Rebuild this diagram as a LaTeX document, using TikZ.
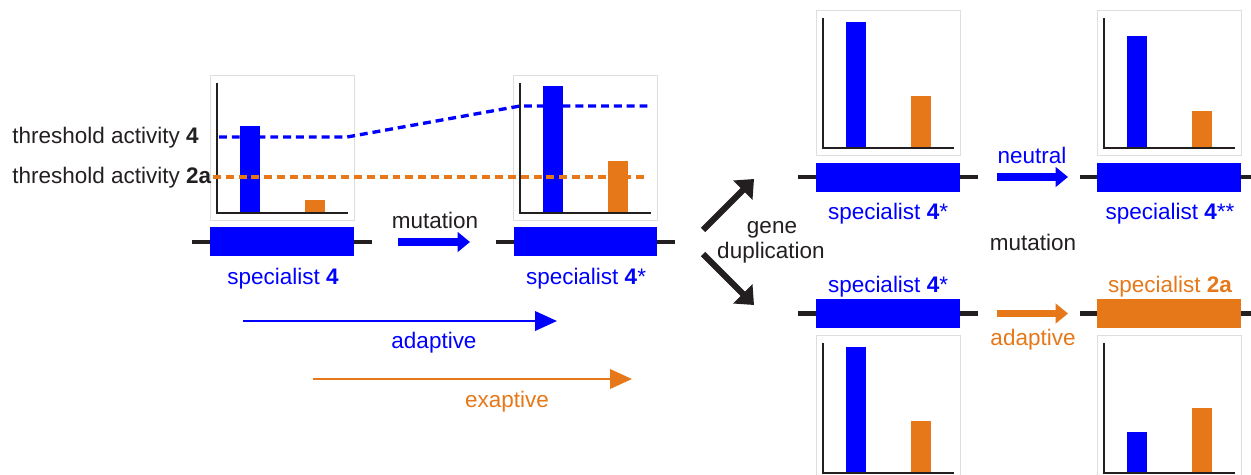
\documentclass[tikz,border=0pt]{standalone}
\usepackage{fontspec}
\setmainfont{Liberation Sans}
\usetikzlibrary{arrows.meta}
\definecolor{myorange}{RGB}{230,120,25}
\definecolor{myblue}{RGB}{0,0,255}
\definecolor{ink}{RGB}{35,31,32}
\definecolor{framegray}{RGB}{222,222,222}
\newcommand\drawchart[4]{%
  \draw[framegray, line width=0.5pt] (#1,#2) rectangle (#1+144,#2+145);
  \fill[myblue] (#1+30,#3) rectangle (#1+50,#2+138);
  \fill[myorange] (#1+95,#4) rectangle (#1+115,#2+138);
  \draw[ink, line width=1.3pt] (#1+7,#2+8) -- (#1+7,#2+138) -- (#1+138,#2+138);
}
\tikzset{
  lbl/.style={anchor=base, inner sep=0pt, font=\fontsize{12.8pt}{15pt}\selectfont},
  genebar/.style={rectangle, inner sep=0pt, minimum width=2.88cm, minimum height=0.58cm, draw=none},
  geneline/.style={ink, line width=2.4pt},
  fatarrow/.style={line width=4.3pt, -{Triangle[length=7pt,width=11pt]}},
  longarrow/.style={line width=1.5pt, -{Triangle[length=12.5pt,width=11pt]}},
  duparrow/.style={ink, line width=3.6pt, -{Triangle[length=9pt,width=15pt]}},
  thresh/.style={line width=1.9pt, dash pattern=on 4.5pt off 2.8pt},
}
\begin{document}
\begin{tikzpicture}[x=0.02cm, y=-0.02cm]
\useasboundingbox (0,0) rectangle (1251,474);
\clip (0,0) rectangle (1251,474);
% charts
\drawchart{210}{75}{126}{200}
\drawchart{513}{75}{86}{161}
\drawchart{816}{10}{22}{96}
\drawchart{1097}{10}{36}{111}
\drawchart{816}{335}{347}{421}
\drawchart{1097}{335}{432}{408}
% threshold lines
\draw[thresh, myblue] (219,137) -- (347,137) -- (520,106) -- (648,106);
\draw[thresh, myorange] (213,177) -- (648,177);
\node[lbl, anchor=base west, ink] (t4) at (12,143) {threshold activity \textbf{4}};
\node[lbl, anchor=base west, ink] (t2a) at (12,183) {threshold activity \textbf{2a}};
% gene lines and bars
\coordinate (l1a) at (192,242); \coordinate (l1b) at (372,242);
\coordinate (l2a) at (496,242); \coordinate (l2b) at (675,242);
\coordinate (l3a) at (798,177); \coordinate (l3b) at (978,177);
\coordinate (l4a) at (1080,177); \coordinate (l4b) at (1260,177);
\coordinate (l5a) at (798,313.5); \coordinate (l5b) at (978,313.5);
\coordinate (l6a) at (1080,313.5); \coordinate (l6b) at (1260,313.5);
\draw[geneline] (l1a) -- (l1b);
\draw[geneline] (l2a) -- (l2b);
\draw[geneline] (l3a) -- (l3b);
\draw[geneline] (l4a) -- (l4b);
\draw[geneline] (l5a) -- (l5b);
\draw[geneline] (l6a) -- (l6b);
\node[genebar, fill=myblue] (g1) at (282,241.5) {};
\node[genebar, fill=myblue] (g2) at (585.5,241.5) {};
\node[genebar, fill=myblue] (g3) at (888,177) {};
\node[genebar, fill=myblue] (g4) at (1169,177) {};
\node[genebar, fill=myblue] (g5) at (888,313.5) {};
\node[genebar, fill=myorange] (g6) at (1169,313.5) {};
% labels
\node[lbl, myblue] (s1) at (283,284) {specialist \textbf{4}};
\node[lbl, myblue] (s2) at (586,284) {specialist \textbf{4}*};
\node[lbl, myblue] (s3) at (888,219) {specialist \textbf{4}*};
\node[lbl, myblue] (s4) at (1170,219) {specialist \textbf{4}**};
\node[lbl, myblue] (s5) at (888,292) {specialist \textbf{4}*};
\node[lbl, myorange] (s6) at (1170,292) {specialist \textbf{2a}};
% mutation arrows
\coordinate (m1a) at (398,242); \coordinate (m1b) at (470,242);
\draw[fatarrow, myblue] (m1a) -- (m1b);
\node[lbl, ink] (mut1) at (435,228) {mutation};
\coordinate (m2a) at (997,177); \coordinate (m2b) at (1068,177);
\draw[fatarrow, myblue] (m2a) -- (m2b);
\node[lbl, myblue] (neu) at (1032,163) {neutral};
\node[lbl, ink] (mut2) at (1033,250) {mutation};
\coordinate (m3a) at (997,313.5); \coordinate (m3b) at (1068,313.5);
\draw[fatarrow, myorange] (m3a) -- (m3b);
\node[lbl, myorange] (ada2) at (1033,345) {adaptive};
% gene duplication
\coordinate (d0) at (703,230); \coordinate (d1) at (754,179);
\coordinate (d2) at (703,254); \coordinate (d3) at (754,305);
\draw[duparrow] (d0) -- (d1);
\draw[duparrow] (d2) -- (d3);
\node[lbl, ink] (gene) at (772,233) {gene};
\node[lbl, ink] (dup) at (771,258) {duplication};
% long arrows
\coordinate (a1) at (243,321); \coordinate (a2) at (557,321);
\draw[longarrow, myblue] (a1) -- (a2);
\node[lbl, myblue] (ada1) at (434,348) {adaptive};
\coordinate (e1) at (313,379); \coordinate (e2) at (632,379);
\draw[longarrow, myorange] (e1) -- (e2);
\node[lbl, myorange] (exa) at (507,407) {exaptive};
\end{tikzpicture}
\end{document}
